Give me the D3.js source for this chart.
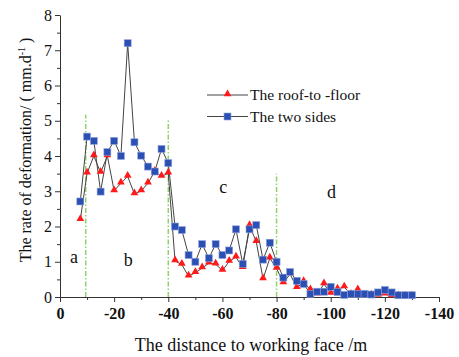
<!DOCTYPE html>
<html>
<head>
<meta charset="utf-8">
<script src="https://cdn.jsdelivr.net/npm/d3@7"></script>
<style>
  body { margin: 0; background: #fff; }
  svg { display: block; }
  text { font-family: "Liberation Serif", "Times New Roman", serif; }
</style>
</head>
<body>
<svg id="chart" width="459" height="357"></svg>
<script>
// distance to working face (m)
const distance = [-7.5, -10, -12.5, -15, -17.5, -20, -22.5, -25, -27.5, -30,
  -32.5, -35, -37.5, -40, -42.5, -45, -47.5, -50, -52.5, -55,
  -57.5, -60, -62.5, -65, -67.5, -70, -72.5, -75, -77.5, -80,
  -82.5, -85, -87.5, -90, -92.5, -95, -97.5, -100, -102.5, -105,
  -107.5, -110, -112.5, -115, -117.5, -120, -122.5, -125, -127.5, -130];

const roofToFloor = [2.19, 3.51, 4.0, 3.53, 4.0, 3.01, 3.23, 3.42, 2.92, 3.01,
  3.23, 3.56, 3.42, 3.51, 1.02, 0.92, 0.59, 0.69, 0.82, 0.96,
  0.93, 0.75, 1.01, 1.13, 0.83, 2.02, 1.57, 0.51, 1.1, 0.81,
  0.4, 0.65, 0.26, 0.43, 0.2, 0.08, 0.37, 0.1, 0.22, 0.28,
  0.07, 0.2, 0.05, 0.05, 0.04, 0.08, 0.03, 0.03, 0.02, 0.02];

const twoSides = [2.71, 4.55, 4.43, 2.99, 4.11, 4.43, 4.0, 7.2, 4.39, 4.01,
  3.70, 3.56, 4.2, 3.80, 2.0, 1.9, 1.19, 1.0, 1.5, 1.1,
  1.5, 1.19, 1.32, 1.92, 0.94, 1.92, 2.04, 1.06, 1.54, 1.0,
  0.55, 0.71, 0.46, 0.37, 0.09, 0.15, 0.15, 0.29, 0.14, 0.06,
  0.09, 0.09, 0.09, 0.07, 0.13, 0.2, 0.13, 0.05, 0.05, 0.05];

const xTicks = [0, -20, -40, -60, -80, -100, -120, -140];
const yTicks = [0, 1, 2, 3, 4, 5, 6, 7, 8];

// zone boundaries (x, top y) and zone letters
const zoneLines = [[-9.5, 5.17], [-40, 5.05], [-80, 3.5]];
const zoneLabels = [["a", -5.2, 1.14], ["b", -25.2, 1.07], ["c", -60.3, 3.12], ["d", -100.3, 2.99]];

const svg = d3.select("#chart");
const x = d3.scaleLinear().domain([0, -140]).range([60, 439]);
const y = d3.scaleLinear().domain([0, 8]).range([297, 15]);

const axisColor = "#333";

// x axis
const xAxis = svg.append("g")
    .attr("transform", `translate(0,${y(0)})`)
    .call(d3.axisBottom(x).tickValues(d3.range(0, -141, -10)).tickSize(5).tickSizeOuter(0)
      .tickFormat(d => xTicks.includes(d) ? d : ""));
xAxis.select(".domain").attr("stroke", axisColor);
xAxis.selectAll(".tick line").attr("stroke", axisColor)
    .attr("y2", d => xTicks.includes(d) ? 5 : 3);
xAxis.selectAll(".tick text")
    .attr("dy", "0.9em")
    .style("font-size", "16px")
    .style("font-weight", "700")
    .style("fill", "#111");

// y axis
const yAxis = svg.append("g")
    .attr("transform", `translate(${x(0)},0)`)
    .call(d3.axisLeft(y).tickValues(d3.range(0, 8.01, 0.5)).tickSize(5).tickSizeOuter(0)
      .tickFormat(d => yTicks.includes(d) ? d : ""));
yAxis.select(".domain").attr("stroke", axisColor);
yAxis.selectAll(".tick line").attr("stroke", axisColor)
    .attr("x2", d => yTicks.includes(d) ? -5 : -3);
yAxis.selectAll(".tick text")
    .attr("x", -8)
    .style("font-size", "16px")
    .style("fill", "#111");

// zone boundaries
svg.selectAll("line.zone")
    .data(zoneLines)
    .enter()
    .append("line")
      .attr("class", "zone")
      .attr("x1", d => x(d[0])).attr("x2", d => x(d[0]))
      .attr("y1", y(0)).attr("y2", d => y(d[1]))
      .attr("stroke", "#8fd06a")
      .attr("stroke-width", 1.5)
      .attr("stroke-dasharray", "5,2,1.5,2");

svg.selectAll("text.zone")
    .data(zoneLabels)
    .enter()
    .append("text")
      .attr("class", "zone")
      .attr("x", d => x(d[1]))
      .attr("y", d => y(d[2]))
      .attr("dy", "0.35em")
      .attr("text-anchor", "middle")
      .style("font-size", "18px")
      .style("fill", "#111")
      .text(d => d[0]);

const line = d3.line().x(d => x(d[0])).y(d => y(d[1]));
const red = distance.map((d, i) => [d, roofToFloor[i]]);
const blue = distance.map((d, i) => [d, twoSides[i]]);

[red, blue].forEach(s => {
  svg.append("path")
      .datum(s)
      .attr("d", line)
      .attr("fill", "none")
      .attr("stroke", "#444")
      .attr("stroke-width", 1);
});

const triangle = d3.symbol().type(d3.symbolTriangle).size(26);

const drawRed = (sel) => sel.append("path")
    .attr("d", triangle)
    .attr("fill", "#ff1a1a");
const drawBlue = (sel) => sel.append("rect")
    .attr("x", -3.5).attr("y", -3.5)
    .attr("width", 7).attr("height", 7)
    .attr("fill", "#2c4fb4")
    .attr("stroke", "#8fa3dc")
    .attr("stroke-width", 0.6);

svg.selectAll("g.red")
    .data(red)
    .enter()
    .append("g")
      .attr("class", "red")
      .attr("transform", d => `translate(${x(d[0])},${y(d[1]) - 1})`)
      .call(drawRed);

svg.selectAll("g.blue")
    .data(blue)
    .enter()
    .append("g")
      .attr("class", "blue")
      .attr("transform", d => `translate(${x(d[0])},${y(d[1])})`)
      .call(drawBlue);

// legend
const legend = [["The roof-to -floor", drawRed], ["The two sides", drawBlue]];
legend.forEach(([label, draw], i) => {
  const g = svg.append("g").attr("transform", `translate(207,${95 + i * 21.5})`);
  g.append("line").attr("x1", 0).attr("x2", 41).attr("stroke", "#444").attr("stroke-width", 1);
  g.append("g").attr("transform", `translate(20.5,${i === 0 ? -1 : 0})`).call(draw);
  g.append("text").attr("x", 43).attr("dy", "0.35em")
      .style("font-size", "15.5px").style("fill", "#111").text(label);
});

// axis titles
svg.append("text")
    .attr("x", 251).attr("y", 351)
    .attr("text-anchor", "middle")
    .style("font-size", "18px")
    .style("fill", "#111")
    .text("The distance to working face /m");

const yTitle = svg.append("text")
    .attr("transform", "translate(31,150) rotate(-90)")
    .attr("text-anchor", "middle")
    .style("font-size", "16px")
    .style("fill", "#111");
yTitle.append("tspan").text("The rate of deformation/ ( mm.d");
yTitle.append("tspan").attr("dy", "-6").style("font-size", "10px").text("-1");
yTitle.append("tspan").attr("dy", "6").text(" )");
</script>
</body>
</html>
